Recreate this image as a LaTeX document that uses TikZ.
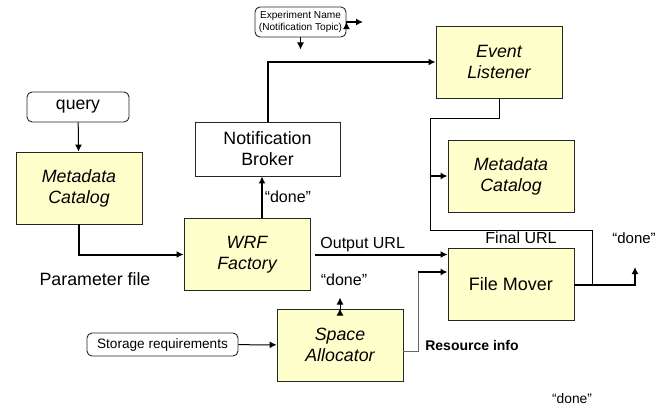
\documentclass[tikz,border=0pt]{standalone}
\usepackage{fontspec}
\setmainfont{Liberation Sans}
\usetikzlibrary{positioning,calc,arrows.meta}
\definecolor{boxyellow}{RGB}{255,255,204}

\begin{document}
\begin{tikzpicture}[x=1pt,y=-1pt]
  \useasboundingbox (0,0) rectangle (661,407);
  \begin{scope}[
    every node/.style={
      draw=black!85,
      fill=boxyellow,
      align=center,
      anchor=center,
      inner sep=0pt,
      line width=0.9pt,
      minimum width=126pt,
      minimum height=72pt,
      font=\fontsize{17.8}{21}\selectfont\itshape,
    },
    ]
    \node (meta-in)  at (79,188)    {Metadata\\Catalog};
    \node (wrf)      at (247,254.5) {WRF\\Factory};
    \node (listener) at (499,62)    {Event\\Listener};
    \node (meta-out) at (511,176)   {Metadata\\Catalog};
    \node (alloc)    at (340,345)   {Space\\Allocator};
    \node[font=\fontsize{18}{21}\selectfont] (mover) at (511,284.5) {File Mover};
    \node[fill=white,minimum width=145pt,minimum height=54pt,
      font=\fontsize{17.8}{21}\selectfont] (broker) at (267.5,149) {Notification\\Broker};
  \end{scope}
  \begin{scope}[
    every node/.style={
      draw=black!85,
      rounded corners=5pt,
      align=center,
      inner sep=0pt,
      line width=0.9pt,
      minimum height=30pt,
    },
    ]
    \node[minimum width=102pt,font=\fontsize{17.6}{20}\selectfont] (query) at (78,107) {query};
    \node[minimum width=91pt,font=\fontsize{10.1}{12}\selectfont] (topic) at (300.5,22)
      {Experiment Name\\(Notification Topic)};
    \node[minimum width=151pt,minimum height=23pt,font=\fontsize{13.6}{16}\selectfont]
      (storage) at (162.5,344.5) {Storage requirements};
  \end{scope}
  % bends and free ends
  \coordinate (topic-down) at ($(topic.south)+(0,12)$);
  \coordinate (topic-right) at (363,22);
  \coordinate (bus-top) at (430,118);
  \coordinate (bus-bottom) at (430,230);
  \coordinate (tap) at (592,284.5);
  \coordinate (done-up) at (635,267);
  \coordinate (res-bend) at (418,272);
  \coordinate (alloc-up) at ($(alloc.north)+(0,-11)$);
  \begin{scope}[
    every node/.style={font=\fontsize{16}{19}\selectfont,inner sep=2pt},
    every path/.style={draw,>={Latex[length=7pt,width=7pt]}},
    ]
    \path[->,line width=1pt]
    (query) edge (meta-in)
    (topic.south) edge (topic-down)
    (alloc.north) edge (alloc-up);
    \path[->,line width=2pt]
    (topic.east) edge (topic-right);
    \draw[->,line width=2pt] (meta-in.south) |- (wrf.west);
    \draw[->,line width=1.5pt] ([xshift=15pt]wrf.north) -- ([xshift=15pt]wrf.north |- broker.south)
      node[midway,right]{“done”};
    \draw[->,line width=2pt] (broker.north) |- (listener.west);
    \draw[line width=1pt] (listener.south) |- (bus-top) -- (bus-bottom) -| (tap);
    \draw[->,line width=2pt] (bus-top |- meta-out.west) -- (meta-out.west);
    \draw[->,line width=2pt] ([xshift=5pt]wrf.east) -- (mover.west |- wrf.east)
      node[pos=0,above right,xshift=2pt]{Output URL};
    \draw[line width=1pt,black!60] ([yshift=-6pt]alloc.east) -| (res-bend);
    \draw[->,line width=1.5pt] (res-bend) -- (mover.west |- res-bend);
    \draw[->,line width=2pt] (mover.east) -| (done-up);
    \draw[->,line width=1pt] (storage) -- (alloc);
  \end{scope}
  \node[font=\fontsize{17.8}{21}\selectfont] (param-label) at (95,279) {Parameter file};
  \node[font=\fontsize{16}{19}\selectfont] (alloc-done) at (344,280) {“done”};
  \node[font=\fontsize{16}{19}\selectfont] (final-label) at (521,238) {Final URL};
  \node[font=\fontsize{15}{18}\selectfont] (mover-done) at (634,238) {“done”};
  \node[font=\fontsize{14}{17}\selectfont\bfseries] (res-label) at (472,345) {Resource info};
  \node[font=\fontsize{13.8}{16}\selectfont] (bottom-done) at (572,399) {“done”};
\end{tikzpicture}
\end{document}
